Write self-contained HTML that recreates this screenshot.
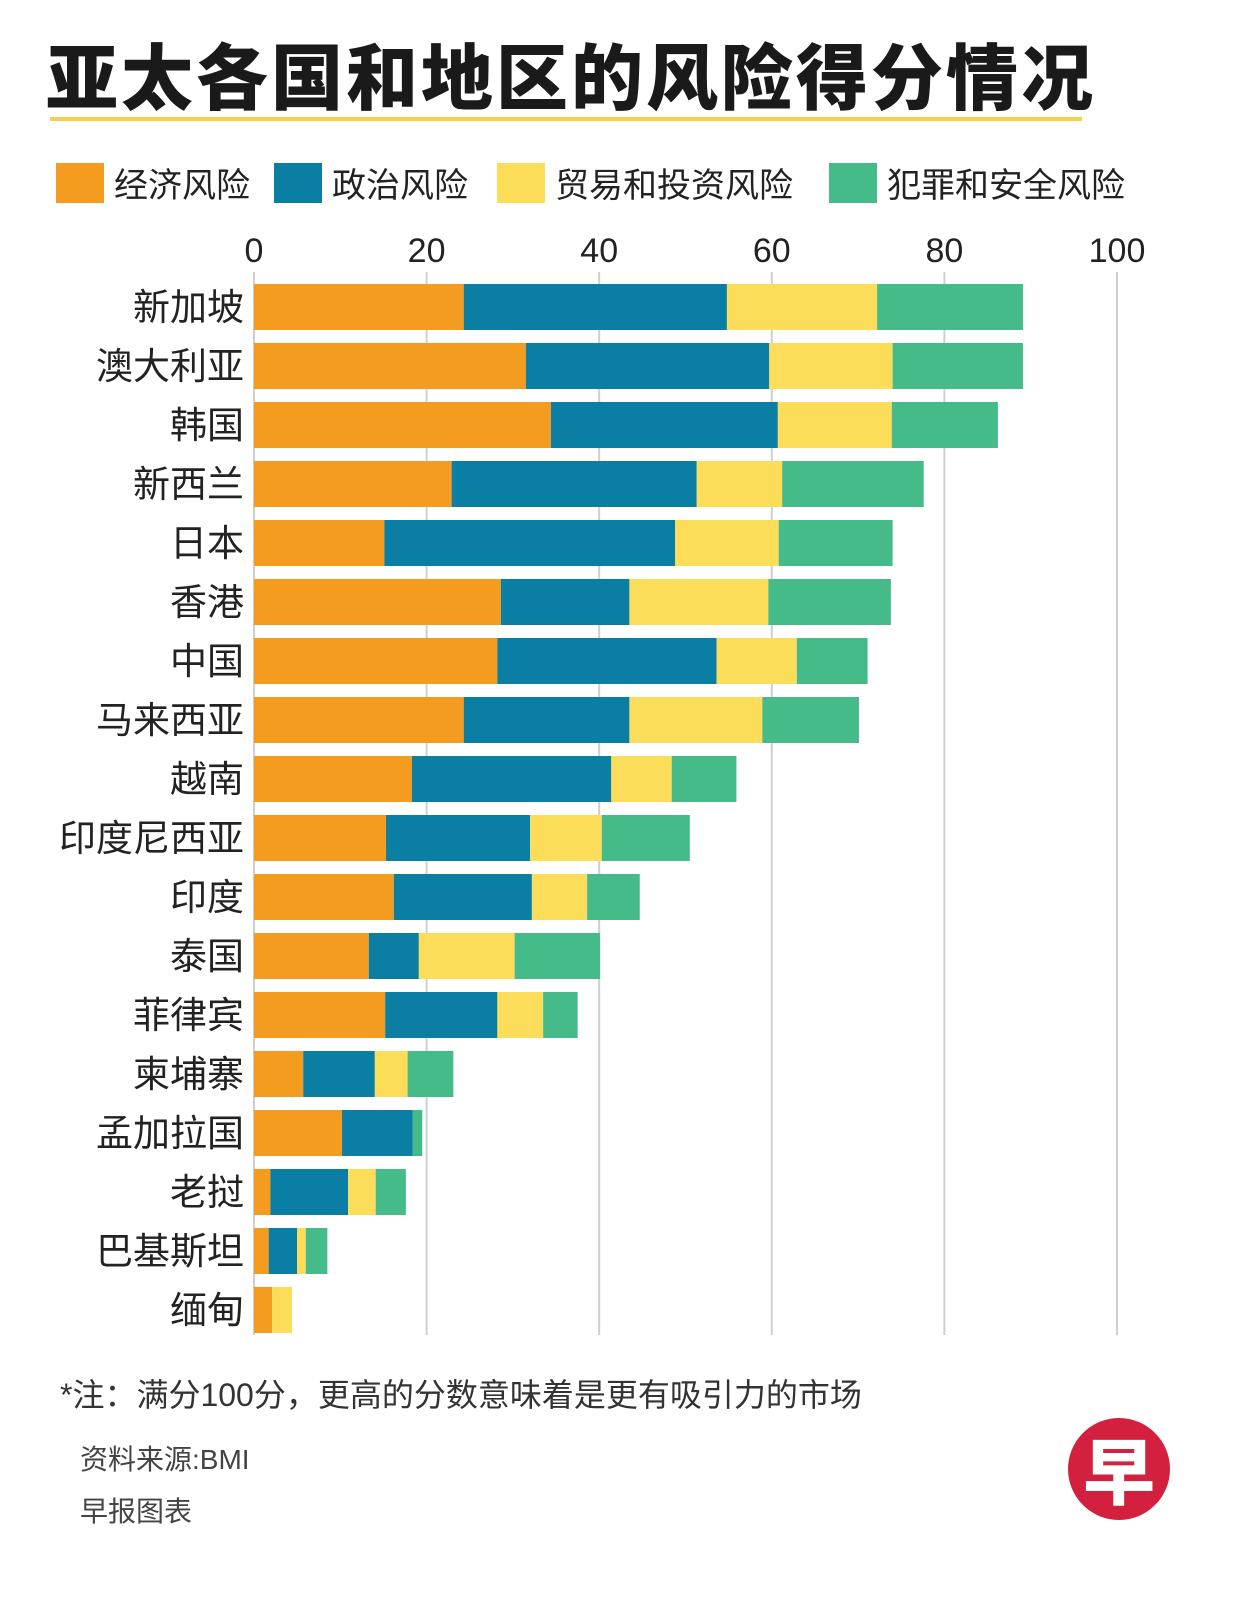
<!DOCTYPE html>
<html><head><meta charset="utf-8"><style>
body{margin:0;background:#fff;width:1251px;height:1607px;overflow:hidden;font-family:"Liberation Sans","Noto Sans CJK SC",sans-serif}
.t{position:absolute;white-space:nowrap;color:#222}
</style></head><body>
<div class="t" style="left:46px;top:20px;font-size:72px;font-weight:900;color:#1a1a1a;letter-spacing:3px">亚太各国和地区的风险得分情况</div>
<div style="position:absolute;left:50px;top:117px;width:1032px;height:4px;background:#F7D047"></div>
<div id="legend"></div>
<svg id="chart" width="1251" height="1607" style="position:absolute;left:0;top:0"></svg>
<div class="t" style="left:60px;top:1370px;font-size:32px;color:#333">*注：满分100分，更高的分数意味着是更有吸引力的市场</div>
<div class="t" style="left:80px;top:1438px;font-size:28px;color:#444">资料来源:BMI</div>
<div class="t" style="left:80px;top:1490px;font-size:28px;color:#444">早报图表</div>
<div style="position:absolute;left:1068px;top:1418px;width:102px;height:102px;border-radius:50%;background:#D3203F;color:#fff;font-size:72px;font-weight:900;text-align:center;line-height:100px;font-family:'Noto Sans CJK SC',sans-serif">早</div>
<script>
const countries=["新加坡","澳大利亚","韩国","新西兰","日本","香港","中国","马来西亚","越南","印度尼西亚","印度","泰国","菲律宾","柬埔寨","孟加拉国","老挝","巴基斯坦","缅甸"];
const economic=[24.3,31.5,34.4,22.9,15.1,28.6,28.2,24.3,18.3,15.3,16.2,13.3,15.2,5.7,10.2,1.9,1.7,2.1];
const political=[30.5,28.2,26.3,28.4,33.7,14.9,25.4,19.2,23.1,16.7,16.0,5.8,13.0,8.3,8.2,9.0,3.3,0];
const trade=[17.4,14.3,13.2,9.9,12.0,16.1,9.3,15.4,7.0,8.3,6.4,11.1,5.3,3.8,0,3.2,1.0,2.3];
const crime=[16.9,15.1,12.3,16.4,13.2,14.2,8.2,11.2,7.5,10.2,6.1,9.9,4.0,5.3,1.1,3.5,2.5,0];
const seriesNames=["经济风险","政治风险","贸易和投资风险","犯罪和安全风险"];
const ticks=[0,20,40,60,80,100];
const colors=["#F39C1F","#0A7FA3","#FBDD5A","#45BB8A"];
const series=[economic,political,trade,crime];
const NS="http://www.w3.org/2000/svg";
const svg=document.getElementById('chart');
const x=v=>254+v*8.63;
const yc=i=>307+i*59;
function el(t,a){const e=document.createElementNS(NS,t);for(const k in a)e.setAttribute(k,a[k]);svg.appendChild(e);return e;}
ticks.forEach(t=>{
 const l=el('line',{x1:x(t),x2:x(t),y1:272,y2:1335,stroke:'#cfcfcf','stroke-width':2});
 
 
 const tx=el('text',{x:x(t),y:262,'text-anchor':'middle','font-size':34,fill:'#222','font-family':'Liberation Sans, sans-serif'});
 tx.textContent=t;
 
 
});
countries.forEach((c,i)=>{
 const tx=el('text',{x:244,y:yc(i)+13,'text-anchor':'end','font-size':37,fill:'#222','font-family':'Noto Sans CJK SC, sans-serif'});
 tx.textContent=c;
 
 
 let acc=0;
 series.forEach((s,j)=>{
  const v=s[i];
  if(v>0){
   const r=el('rect',{x:x(acc),y:yc(i)-23,width:x(acc+v)-x(acc),height:46,fill:colors[j]});
   
   
  }
  acc+=v;
 });
});
const lg=document.getElementById('legend');
const lx=[56,274,497,829];
seriesNames.forEach((n,j)=>{
 const d=document.createElement('div');
 d.className='t';
 d.style.cssText=`left:${lx[j]}px;top:158px;font-size:34px;display:flex;align-items:center`;
 d.innerHTML=`<span style="display:inline-block;width:48px;height:40px;background:${colors[j]};margin-right:10px"></span>${n}`;
 
 
 lg.appendChild(d);
});
</script>
</body></html>
